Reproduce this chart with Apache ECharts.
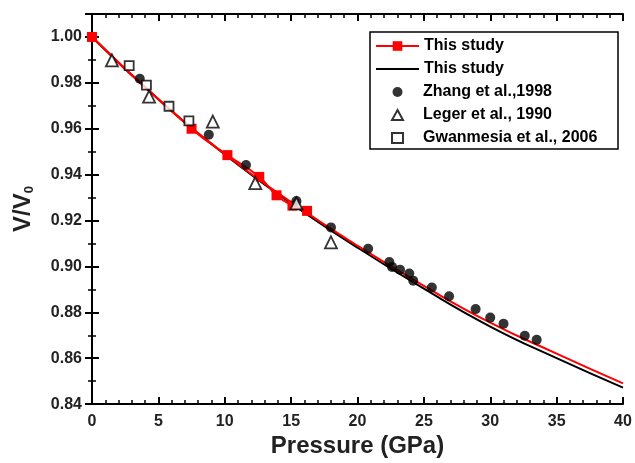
<!DOCTYPE html>
<html>
<head>
<meta charset="utf-8">
<script src="https://cdn.jsdelivr.net/npm/echarts@6/dist/echarts.min.js"></script>
<style>html,body{margin:0;padding:0;background:#fff;}#c{width:635px;height:463px;}</style>
</head>
<body>
<div id="c"></div>
<script>
// This study: measured points (red squares)
const studyP = [0, 7.5, 10.2, 12.6, 13.9, 15.1, 16.2];
const studyV = [1.000, 0.9600, 0.9485, 0.9390, 0.9310, 0.9265, 0.9242];
// This study: fit curve (red)
const fitRedP = [0, 5, 10, 15, 20, 25, 30, 35, 40];
const fitRedV = [1.000, 0.9728, 0.9490, 0.9280, 0.9090, 0.8915, 0.8755, 0.8620, 0.8490];
// This study: fit curve (black)
const fitBlackP = [0, 5, 10, 15, 20, 25, 30, 35, 40];
const fitBlackV = [1.000, 0.9728, 0.9488, 0.9275, 0.9082, 0.8903, 0.8738, 0.8600, 0.8472];
// Zhang et al., 1998
const zhangP = [3.6, 8.8, 11.6, 15.4, 18.0, 20.8, 22.4, 22.6, 23.2, 23.9, 24.2, 25.6, 26.9, 28.9, 30.0, 31.0, 32.6, 33.5];
const zhangV = [0.9818, 0.9574, 0.9442, 0.9285, 0.9170, 0.9077, 0.9019, 0.8998, 0.8986, 0.8969, 0.8938, 0.8908, 0.8870, 0.8814, 0.8777, 0.8750, 0.8698, 0.8680];
// Leger et al., 1990
const legerP = [1.5, 4.3, 9.1, 12.3, 15.4, 18.0];
const legerV = [0.9898, 0.9740, 0.9631, 0.9363, 0.9275, 0.9105];
// Gwanmesia et al., 2006
const gwanP = [2.8, 4.1, 5.8, 7.3];
const gwanV = [0.9875, 0.9790, 0.9698, 0.9634];

const xTicks = {min: 0, max: 40, interval: 5};
const yTicks = {min: 0.84, max: 1.01, interval: 0.02};

const zip = (a, b) => a.map((v, i) => [v, b[i]]);

const chart = echarts.init(document.getElementById('c'), null, {renderer: 'canvas'});
const FONT = 'Liberation Sans, Arial, sans-serif';
function axisBase(split) {
  return {
    axisLine: {show: true, lineStyle: {color: '#000', width: 2}},
    axisTick: {show: true, inside: true, length: 7, lineStyle: {color: '#000', width: 2}},
    minorTick: {show: true, splitNumber: split, length: 4, lineStyle: {color: '#000', width: 1.5}},
    splitLine: {show: false}
  };
}
const legendText = {
  'This study (exp)': 'This study',
  'This study (fit)': 'This study'
};
const legendFont = {color: '#000', fontFamily: FONT, fontWeight: 'bold', fontSize: 16};

chart.setOption({
  backgroundColor: '#fff',
  animation: false,
  grid: {left: 92, right: 12, top: 14, bottom: 54, containLabel: false},
  xAxis: [
    Object.assign(axisBase(5), {
      type: 'value', min: xTicks.min, max: xTicks.max, interval: xTicks.interval,
      axisLabel: {color: '#222', fontFamily: FONT, fontWeight: 'bold', fontSize: 16, margin: 9},
      name: 'Pressure (GPa)', nameLocation: 'middle', nameGap: 27,
      nameTextStyle: {color: '#222', fontFamily: FONT, fontWeight: 'bold', fontSize: 24}
    }),
    Object.assign(axisBase(5), {
      type: 'value', position: 'top', min: xTicks.min, max: xTicks.max, interval: xTicks.interval,
      axisLabel: {show: false}
    })
  ],
  yAxis: [
    Object.assign(axisBase(2), {
      type: 'value', min: yTicks.min, max: yTicks.max, interval: yTicks.interval,
      axisLabel: {
        color: '#222', fontFamily: FONT, fontWeight: 'bold', fontSize: 16, margin: 10,
        formatter: v => (Math.abs(v - yTicks.max) < 1e-6 ? '' : v.toFixed(2))
      },
      name: 'V/V{s|0}', nameLocation: 'middle', nameGap: 56, nameRotate: 90,
      nameTextStyle: {
        color: '#222', fontFamily: FONT, fontWeight: 'bold', fontSize: 24,
        rich: {s: {fontFamily: FONT, fontWeight: 'bold', fontSize: 13, color: '#222', verticalAlign: 'bottom', padding: [12, 0, 0, 0]}}
      }
    }),
    Object.assign(axisBase(2), {
      type: 'value', position: 'right', min: yTicks.min, max: yTicks.max, interval: yTicks.interval,
      axisLabel: {show: false}
    })
  ],
  legend: [
    {
      orient: 'vertical', left: 375, top: 38, padding: 0,
      itemWidth: 43, itemHeight: 12, itemGap: 7,
      textStyle: legendFont,
      formatter: n => legendText[n] || n,
      data: ['This study (exp)', 'This study (fit)']
    },
    {
      orient: 'vertical', left: 391, top: 84, padding: 0,
      itemWidth: 11, itemHeight: 10, itemGap: 7,
      textStyle: Object.assign({}, legendFont, {padding: [0, 0, 0, 15]}),
      data: ['Zhang et al.,1998', 'Leger et al., 1990', 'Gwanmesia et al., 2006']
    }
  ],
  graphic: [{
    type: 'rect', shape: {x: 370, y: 32, width: 248, height: 117},
    style: {fill: 'none', stroke: '#000', lineWidth: 1.5}, z: 100
  }],
  series: [
    {
      name: 'This study (fit)', type: 'line', smooth: true, showSymbol: false, symbol: 'none',
      data: zip(fitBlackP, fitBlackV), lineStyle: {color: '#000', width: 2},
      itemStyle: {color: 'rgba(0,0,0,0)', borderWidth: 0}, z: 2
    },
    {
      name: 'red fit', type: 'line', smooth: true, showSymbol: false, symbol: 'none',
      data: zip(fitRedP, fitRedV), lineStyle: {color: '#f00', width: 2}, itemStyle: {color: '#f00'}, z: 3
    },
    {
      name: 'This study (exp)', type: 'line', smooth: true, symbol: 'rect', symbolSize: 10,
      data: zip(studyP, studyV), lineStyle: {color: '#f00', width: 2}, itemStyle: {color: '#f00'}, z: 4
    },
    {
      name: 'Zhang et al.,1998', type: 'scatter', symbol: 'circle', symbolSize: 10,
      data: zip(zhangP, zhangV), itemStyle: {color: '#000'}, z: 5
    },
    {
      name: 'Leger et al., 1990', type: 'scatter', symbol: 'triangle', symbolSize: 12,
      data: zip(legerP, legerV), itemStyle: {color: '#fff', borderColor: '#000', borderWidth: 1.8}, z: 6
    },
    {
      name: 'Gwanmesia et al., 2006', type: 'scatter', symbol: 'rect', symbolSize: 9,
      data: zip(gwanP, gwanV), itemStyle: {color: '#fff', borderColor: '#000', borderWidth: 1.8}, z: 6
    }
  ]
});
</script>
</body>
</html>
